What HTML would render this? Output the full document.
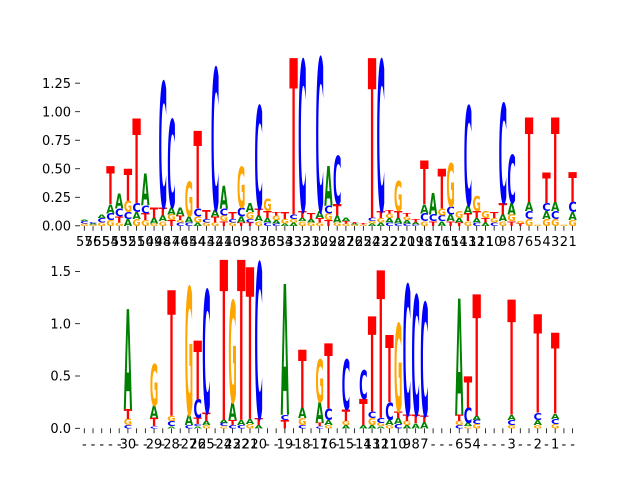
<!DOCTYPE html>
<html><head><meta charset="utf-8"><style>
html,body{margin:0;padding:0;background:#fff;}
svg{display:block;font-family:"DejaVu Sans","Liberation Sans",sans-serif;}
</style></head><body>
<svg id="chart" width="640" height="480" viewBox="0 0 640 480"></svg>
<script>
const topLabels = [];
for (let i = 57; i >= 1; i--) topLabels.push(String(i));
const topStacks = [
[["G",.02],["C",.02],["A",.01]],
[["G",.01],["A",.01],["C",.01]],
[["G",.03],["C",.04],["A",.03]],
[["G",.05],["C",.06],["A",.08],["T",.33]],
[["G",.03],["T",.05],["C",.07],["A",.13]],
[["A",.06],["C",.06],["G",.1],["T",.28]],
[["G",.06],["A",.06],["C",.08],["T",.74]],
[["G",.05],["T",.06],["C",.07],["A",.28]],
[["G",.02],["A",.05],["T",.09]],
[["G",.04],["A",.05],["T",.07],["C",1.1]],
[["T",.05],["G",.05],["A",.06],["C",.77]],
[["C",.03],["G",.02],["T",.04],["A",.07]],
[["C",.03],["A",.05],["G",.3]],
[["A",.03],["G",.05],["C",.07],["T",.68]],
[["G",.03],["C",.03],["T",.08]],
[["G",.03],["T",.05],["A",.06],["C",1.24]],
[["T",.04],["G",.05],["C",.06],["A",.2]],
[["G",.03],["C",.03],["T",.06]],
[["T",.03],["A",.05],["C",.08],["G",.36]],
[["T",.03],["C",.03],["G",.06],["A",.08]],
[["G",.04],["A",.05],["T",.06],["C",.9]],
[["C",.03],["A",.04],["T",.06],["G",.11]],
[["C",.02],["A",.03],["G",.04],["T",.03]],
[["A",.02],["G",.04],["T",.06]],
[["A",.03],["G",.03],["C",.04],["T",1.37]],
[["G",.04],["A",.03],["T",.06],["C",1.32]],
[["G",.03],["A",.03],["T",.05]],
[["G",.03],["T",.04],["A",.06],["C",1.34]],
[["T",.05],["G",.06],["C",.07],["A",.35]],
[["G",.03],["A",.06],["T",.1],["C",.42]],
[["G",.02],["T",.02],["A",.03]],
[["G",.01],["A",.01],["T",.01]],
[["G",.01],["T",.01]],
[["A",.02],["G",.02],["C",.03],["T",1.4]],
[["A",.03],["G",.04],["T",.06],["C",1.32]],
[["C",.03],["A",.04],["G",.04],["T",.03]],
[["C",.02],["A",.05],["T",.06],["G",.26]],
[["C",.02],["A",.03],["G",.03],["T",.03]],
[["C",.01],["A",.02],["T",.03]],
[["G",.04],["C",.07],["A",.08],["T",.38]],
[["T",.04],["C",.06],["A",.19]],
[["A",.04],["C",.05],["G",.06],["T",.35]],
[["T",.04],["A",.06],["C",.07],["G",.38]],
[["T",.03],["A",.04],["G",.06]],
[["G",.04],["T",.07],["A",.07],["C",.87]],
[["C",.03],["A",.04],["T",.06],["G",.13]],
[["A",.03],["T",.04],["G",.06]],
[["C",.03],["G",.04],["T",.05]],
[["G",.04],["A",.06],["T",.1],["C",.87]],
[["T",.04],["G",.06],["A",.1],["C",.42]],
[["T",.02],["G",.02]],
[["G",.06],["C",.07],["A",.08],["T",.74]],
[["G",.01]],
[["G",.06],["A",.07],["C",.07],["T",.27]],
[["G",.06],["C",.07],["A",.08],["T",.74]],
[["G",.01]],
[["G",.05],["A",.07],["C",.09],["T",.26]]
];
const topTicks = [0, 0.25, 0.5, 0.75, 1.0, 1.25];
const topTickLabels = ["0.00","0.25","0.50","0.75","1.00","1.25"];

const bottomLabels = ["-","-","-","-","-","30","-","-","29","-","28","-","27","26","25","-","24","23","22","21","20","-","-","19","-","18","-","17","16","-","15","-","14","13","12","11","10","9","8","7","-","-","-","6","5","4","-","-","-","3","-","-","2","-","1","-","-"];
const bottomStacks = [
[],[],[],[],[],
[["C",.03],["G",.06],["T",.09],["A",.96]],
[],[],
[["C",.02],["T",.08],["A",.12],["G",.4]],
[],
[["A",.02],["C",.05],["G",.05],["T",1.2]],
[],
[["C",.03],["A",.1],["G",1.22]],
[["A",.02],["C",.02],["T",.06],["C",.18],["T",.56]],
[["G",.03],["A",.04],["T",.08],["C",1.17]],
[],
[["G",.02],["C",.03],["A",.03],["T",1.53]],
[["C",.03],["T",.05],["A",.17],["G",.97]],
[["C",.03],["A",.05],["T",1.53]],
[["G",.04],["A",.05],["T",1.45]],
[["A",.03],["T",.07],["C",1.48]],
[],[],
[["T",.08],["C",.05],["A",1.25]],
[],
[["C",.03],["G",.07],["A",.1],["T",.55]],
[],
[["C",.02],["T",.03],["A",.2],["G",.41]],
[["G",.03],["A",.05],["C",.11],["T",.62]],
[],
[["A",.03],["G",.04],["T",.11],["C",.48]],
[],
[["A",.03],["T",.25],["C",.27]],
[["A",.03],["G",.07],["C",.06],["T",.91]],
[["A",.02],["G",.03],["C",.05],["T",1.41]],
[["G",.03],["A",.05],["C",.17],["T",.64]],
[["C",.04],["A",.06],["T",.06],["G",.84]],
[["A",.03],["G",.04],["T",.06],["C",1.24]],
[["A",.05],["T",.08],["C",1.14]],
[["A",.06],["T",.06],["C",1.08]],
[],[],[],
[["C",.03],["G",.04],["T",.06],["A",1.11]],
[["G",.02],["A",.03],["C",.15],["T",.3]],
[["G",.04],["C",.04],["A",.04],["T",1.16]],
[],[],[],
[["G",.03],["C",.05],["A",.05],["T",1.1]],
[],[],
[["G",.03],["A",.05],["C",.07],["T",.94]],
[],
[["G",.04],["C",.05],["A",.05],["T",.77]],
[],[]
];
const bottomTicks = [0, 0.5, 1.0, 1.5];
const bottomTickLabels = ["0.0","0.5","1.0","1.5"];

const NS = "http://www.w3.org/2000/svg";
const svg = document.getElementById("chart");
const COLORS = {A:"#008000", C:"#0000ff", G:"#ffa500", T:"#ff0000"};
const X0 = 84.3, DX = 8.72, GW = 8.4, CAP = 72.9;
function xScale(i){ return X0 + i*DX; }

function mk(tag, attrs, parent){
  const e = document.createElementNS(NS, tag);
  for (const k in attrs) e.setAttribute(k, attrs[k]);
  parent.appendChild(e);
  return e;
}

function drawPanel(name, stacks, labels, ticks, tickLabels, y0, scale){
  const yScale = v => y0 - v*scale;
  const g = mk("g", {}, svg);
  
  
  // y ticks
  ticks.forEach((t, k) => {
    const y = yScale(t);
    const tl = mk("line", {x1:75.1, x2:80, y1:y, y2:y, stroke:"#000", "stroke-width":0.8}, g);
    
    
    const tx = mk("text", {x:71, y:y+4.6, "text-anchor":"end", "font-size":13, fill:"#000"}, g);
    
    
    tx.textContent = tickLabels[k];
  });
  // x ticks + labels
  labels.forEach((lab, i) => {
    const x = xScale(i);
    const tl = mk("line", {x1:x, x2:x, y1:y0, y2:y0+4.9, stroke:"#000", "stroke-width":0.8}, g);
    
    
    const tx = mk("text", {x:x, y:y0+20, "text-anchor":"middle", "font-size":13, fill:"#000"}, g);
    
    
    tx.textContent = lab;
  });
  // stacks
  stacks.forEach((stack, i) => {
    let base = 0;
    const xl = xScale(i) - GW/2;
    stack.forEach(([letter, h]) => {
      const yb = yScale(base);
      const hp = h*scale;
      base += h;
      if (hp <= 0) return;
      const t = mk("text", {
        x:0, y:0, "font-size":100, "font-weight":"bold",
        "font-family":"'DejaVu Sans','Liberation Sans',sans-serif",
        fill:COLORS[letter], textLength:GW, lengthAdjust:"spacingAndGlyphs",
        transform:`translate(${xl.toFixed(2)},${yb.toFixed(2)}) scale(1,${(hp/CAP).toFixed(4)})`
      }, g);
      
      
      t.textContent = letter;
    });
  });
}

drawPanel("top", topStacks, topLabels, topTicks, topTickLabels, 225.8, 114.1);
drawPanel("bottom", bottomStacks, bottomLabels, bottomTicks, bottomTickLabels, 428.3, 104.6);
</script>
</body></html>
